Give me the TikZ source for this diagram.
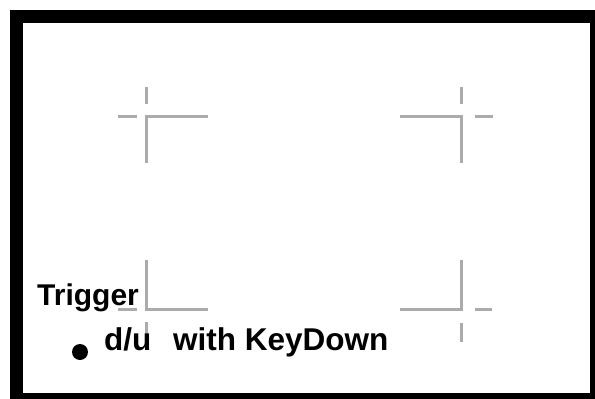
\documentclass[tikz,border=0pt]{standalone}
\usepackage{fontspec}
\setmainfont{Liberation Sans}
\tikzset{
  crossline/.style={draw=black!33, line width=3pt},
  frameline/.style={draw=black, line width=13pt},
  lbl/.style={inner sep=0pt, font=\fontsize{30}{36}\selectfont\bfseries, anchor=base west},
  lblb/.style={lbl, font=\fontsize{31.5}{36}\selectfont\bfseries},
  bullet/.style={circle, fill=black, inner sep=0pt, minimum size=16pt}
}
\begin{document}
\begin{tikzpicture}[x=1pt,y=-1pt]
\useasboundingbox (0,0) rectangle (595,399);
\fill[white] (0,0) rectangle (595,399);
\begin{scope}
\clip (0,0) rectangle (595,399);
\draw[frameline] (16,16) rectangle (596.5,399.5);
\end{scope}
% top-left mark
\draw[crossline] (208,116) -- (146,116) -- (146,163);
\draw[crossline] (146,87) -- (146,104);
\draw[crossline] (118,116) -- (137,116);
% top-right mark
\draw[crossline] (400,116) -- (461,116) -- (461,163);
\draw[crossline] (461,87) -- (461,104);
\draw[crossline] (475,116) -- (493,116);
% bottom-left mark
\draw[crossline] (146,260) -- (146,309) -- (208,309);
\draw[crossline] (118,309) -- (137,309);
\draw[crossline] (146,322) -- (146,342);
% bottom-right mark
\draw[crossline] (461,260) -- (461,309) -- (400,309);
\draw[crossline] (475,309) -- (492,309);
\draw[crossline] (461,323) -- (461,342);
% texts
\node[lbl] (trig) at (37,305) {Trigger};
\node[bullet] (dot) at (80,352) {};
\node[lblb] (du) at (104,350) {d/u};
\node[lblb] (kd) at (173,350) {with KeyDown};
\end{tikzpicture}
\end{document}
